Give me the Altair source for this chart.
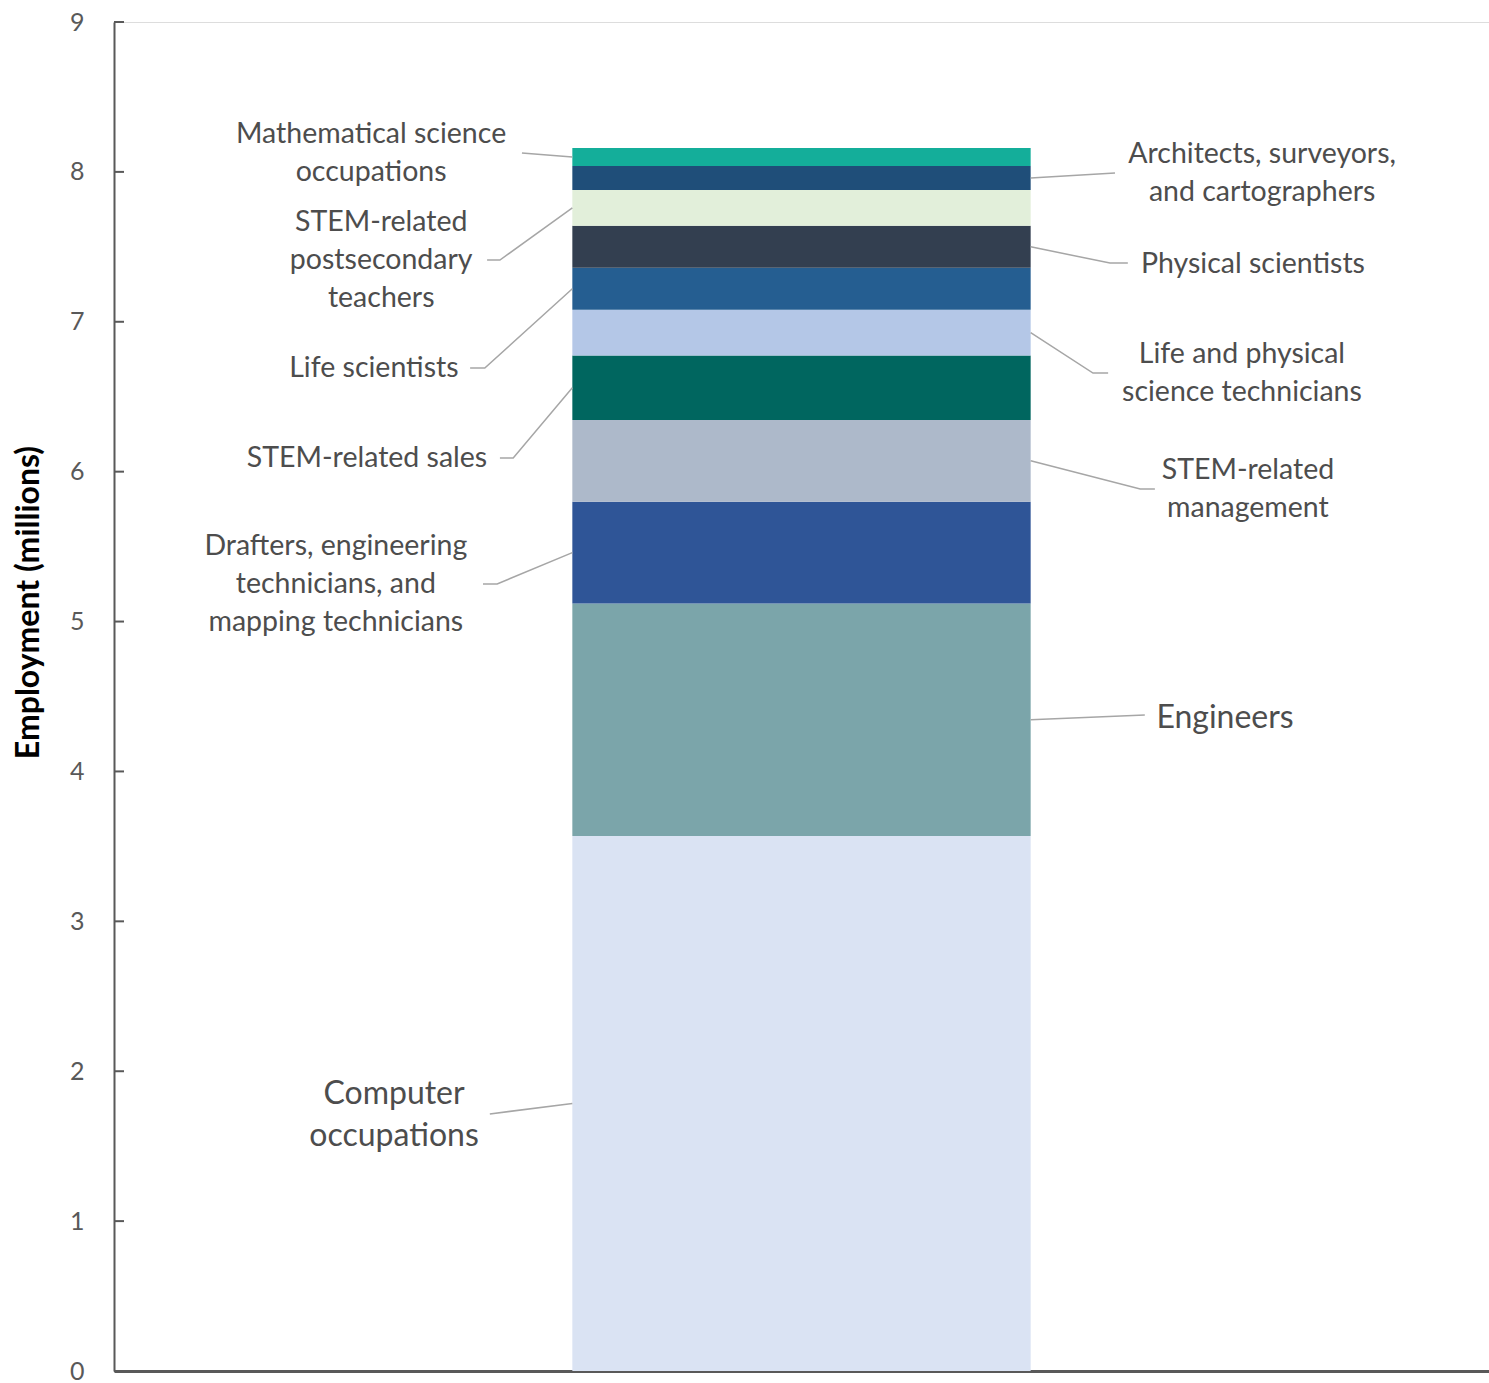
import altair as alt
import pandas as pd

# ---- data (bottom to top of the stack) ----
occupations = [
    "Computer occupations",
    "Engineers",
    "Drafters, engineering technicians, and mapping technicians",
    "STEM-related management",
    "STEM-related sales",
    "Life and physical science technicians",
    "Life scientists",
    "Physical scientists",
    "STEM-related postsecondary teachers",
    "Architects, surveyors, and cartographers",
    "Mathematical science occupations",
]
employment_millions = [3.57, 1.55, 0.68, 0.545, 0.43, 0.305, 0.28, 0.28, 0.24, 0.16, 0.12]
colors = ["#DAE3F3", "#7BA5AA", "#2F5597", "#ADB9CA", "#00665F", "#B4C7E7",
          "#255E91", "#333F50", "#E2EFDA", "#1F4E79", "#14AE9A"]

# ---- annotation text (with line breaks) ----
label_texts = [
    "Computer\noccupations",
    "Engineers",
    "Drafters, engineering\ntechnicians, and\nmapping technicians",
    "STEM-related\nmanagement",
    "STEM-related sales",
    "Life and physical\nscience technicians",
    "Life scientists",
    "Physical scientists",
    "STEM-related\npostsecondary\nteachers",
    "Architects, surveyors,\nand cartographers",
    "Mathematical science\noccupations",
]
label_big = [True, True, False, False, False, False, False, False, False, False, False]
label_side = ["left", "right", "left", "right", "left", "right", "left", "right", "left", "right", "left"]
# annotation placement in data units (x: 0..3 with the bar spanning 1..2);
# text_y is the centre of the first text line
text_x = [0.611, 2.424, 0.484, 2.474, 0.552, 2.461, 0.567, 2.485, 0.583, 2.505, 0.561]
text_y = [1.848, 4.357, 5.504, 6.011, 6.091, 6.785, 6.692, 7.386, 7.666, 8.119, 8.253]
elbow_x = [0.820, 2.249, 0.836, 2.239, 0.871, 2.136, 0.809, 2.173, 0.842, 2.184, 0.890]
end_x = [0.820, 2.249, 0.805, 2.271, 0.842, 2.169, 0.777, 2.212, 0.814, 2.184, 0.890]
end_y = [1.715, 4.377, 5.251, 5.884, 6.091, 6.658, 6.692, 7.392, 7.412, 7.993, 8.126]

tick_values = list(range(10))

# ---- build tables ----
rows = []
base = 0.0
for i, (o, v) in enumerate(zip(occupations, employment_millions)):
    rows.append({"occupation": o, "idx": i, "y0": base, "y1": base + v, "mid": base + v / 2,
                 "x0": 1.0, "x1": 2.0})
    base += v
bars = pd.DataFrame(rows)

line_rows = []
for i, o in enumerate(occupations):
    edge = 1.0 if label_side[i] == "left" else 2.0
    mid = bars.loc[i, "mid"]
    line_rows.append({"occupation": o, "p": 0, "x": edge, "y": mid})
    line_rows.append({"occupation": o, "p": 1, "x": elbow_x[i], "y": end_y[i]})
    line_rows.append({"occupation": o, "p": 2, "x": end_x[i], "y": end_y[i]})
lines = pd.DataFrame(line_rows)

texts = pd.DataFrame({"text": label_texts, "x": text_x, "y": text_y, "big": label_big})
ticks = pd.DataFrame({"v": tick_values})

FONT = "Lato"
GRAY = "#595959"

xscale = alt.Scale(domain=[0, 3], nice=False, zero=False)
yscale = alt.Scale(domain=[0, 9], nice=False)

bar_layer = alt.Chart(bars).mark_rect().encode(
    x=alt.X("x0:Q", scale=xscale,
            axis=alt.Axis(labels=False, ticks=False, title=None, grid=False,
                          domainColor=GRAY, domainWidth=3)),
    x2="x1:Q",
    y=alt.Y("y0:Q", scale=yscale,
            axis=alt.Axis(values=tick_values, format="d", grid=False, ticks=False, tickSize=0,
                          domainColor=GRAY, domainWidth=2,
                          labelFont=FONT, labelFontSize=25, labelColor=GRAY,
                          labelPadding=30,
                          title="Employment (millions)", titleFont=FONT,
                          titleFontSize=32, titleFontWeight="bold", titleColor="#000000",
                          titleX=-86, titleY=580, titleAngle=270,
                          titleAlign="center", titleBaseline="middle")),
    y2="y1:Q",
    color=alt.Color("occupation:N", scale=alt.Scale(domain=occupations, range=colors),
                    legend=None),
)

tick_layer = alt.Chart(ticks).mark_rule(color=GRAY, strokeWidth=2).encode(
    x=alt.value(0), x2=alt.value(10), y=alt.Y("v:Q", scale=yscale)
)

line_layer = alt.Chart(lines).mark_line(color="#A6A6A6", strokeWidth=1.5).encode(
    x=alt.X("x:Q", scale=xscale),
    y=alt.Y("y:Q", scale=yscale),
    detail="occupation:N",
    order="p:Q",
)

text_small = alt.Chart(texts).transform_filter("!datum.big").mark_text(
    font=FONT, fontSize=28.5, color="#4D4D4D", align="center", baseline="middle",
    lineBreak="\n", lineHeight=38,
).encode(
    x=alt.X("x:Q", scale=xscale),
    y=alt.Y("y:Q", scale=yscale),
    text="text:N",
)

text_big = alt.Chart(texts).transform_filter("datum.big").mark_text(
    font=FONT, fontSize=32, color="#4D4D4D", align="center", baseline="middle",
    lineBreak="\n", lineHeight=42,
).encode(
    x=alt.X("x:Q", scale=xscale),
    y=alt.Y("y:Q", scale=yscale),
    text="text:N",
)

chart = alt.layer(bar_layer, tick_layer, line_layer, text_small, text_big).properties(
    width=1375, height=1349,
    autosize=alt.AutoSizeParams(type="none"),
    padding={"left": 114, "top": 22, "right": 0, "bottom": 12},
).configure_view(stroke=None).configure(background="white")

chart.save("out.html", embed_options={"renderer": "svg", "actions": False})
